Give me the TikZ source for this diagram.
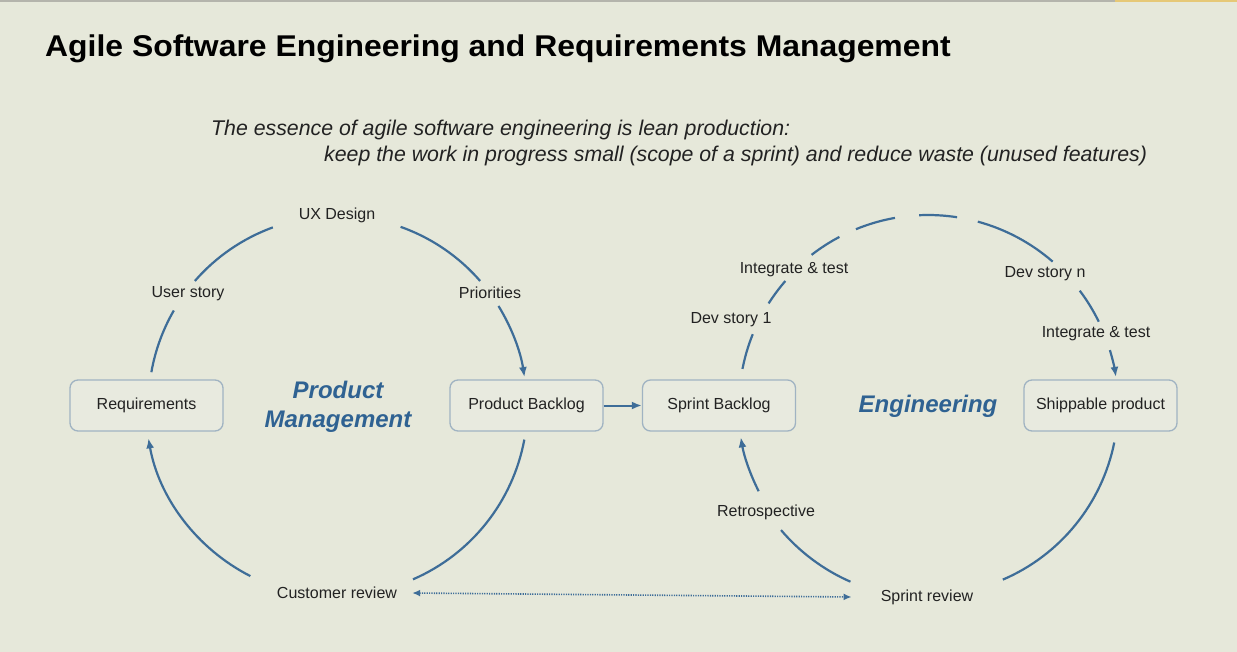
\documentclass[tikz,border=0pt]{standalone}
\usepackage{fontspec}
\setmainfont{Liberation Sans}
\usetikzlibrary{arrows.meta}
\definecolor{bg}{HTML}{E6E8DA}
\definecolor{flowc}{HTML}{3E6D98}
\definecolor{boxline}{HTML}{A0B3C2}
\definecolor{boxfill}{HTML}{E8EADF}
\definecolor{txt}{HTML}{222222}
\definecolor{headc}{HTML}{2F6292}
\definecolor{rimgray}{HTML}{B4B4AC}
\definecolor{rimgold}{HTML}{E6C877}
\begin{document}
\begin{tikzpicture}[x=1pt,y=1pt,
  stage/.style={draw=boxline, line width=1.3pt, fill=boxfill, rounded corners=8pt,
    minimum width=153pt, minimum height=51pt, inner sep=0pt,
    font=\fontsize{16}{19}\selectfont, text=txt},
  lbl/.style={font=\fontsize{16}{19}\selectfont, text=txt, inner sep=1pt},
  area/.style={font=\fontsize{24}{29}\selectfont\bfseries\itshape, text=headc, align=center},
  flow/.style={draw=flowc, line width=2.2pt},
  tip/.style={-{Latex[length=10pt,width=8pt]}},
  both/.style={{Latex[length=8pt,width=7pt]}-{Latex[length=8pt,width=7pt]}}]

% page and top rim
\fill[bg] (0,0) rectangle (1237,-652);
\useasboundingbox (0,0) rectangle (1237,-652);
\fill[rimgray] (0,0) rectangle (1237,-2.5);
\fill[rimgold] (1115,0) rectangle (1237,-2.5);

% heading and motto
\node[anchor=base west, inner sep=0pt, font=\fontsize{30}{36}\selectfont\bfseries, text=black]
  (title) at (45,-57) {\scalebox{1.063}[1]{Agile Software Engineering and Requirements Management}};
\node[anchor=base west, inner sep=0pt, font=\fontsize{21.3}{25}\selectfont\itshape, text=txt]
  (motto1) at (211,-136) {The essence of agile software engineering is lean production:};
\node[anchor=base west, inner sep=0pt, font=\fontsize{21.3}{25}\selectfont\itshape, text=txt]
  (motto2) at (324,-162) {keep the work in progress small (scope of a sprint) and reduce waste (unused features)};

% cycle centres
\coordinate (pm) at (337.5,-405);
\coordinate (en) at (928,-405);

% stages
\node[stage] (req) at (146.5,-405.5) {Requirements};
\node[stage] (pbl) at (526.5,-405.5) {Product Backlog};
\node[stage] (sbl) at (719,-405.5) {Sprint Backlog};
\node[stage] (ship) at (1100.5,-405.5) {Shippable product};

\node[area] (pmname) at (338,-407) {Product\\Management};
\node[area] (enname) at (928,-406) {Engineering};

% activity labels
\node[lbl] (ux) at (337,-215) {UX Design};
\node[lbl] (us) at (188,-294) {User story};
\node[lbl] (prio) at (490,-293) {Priorities};
\node[lbl] (cr) at (337,-593) {Customer review};
\node[lbl] (it1) at (794,-270) {Integrate \& test};
\node[lbl] (ds1) at (731,-320) {Dev story 1};
\node[lbl] (dsn) at (1045,-274) {Dev story n};
\node[lbl] (it2) at (1096,-334) {Integrate \& test};
\node[lbl] (retro) at (766,-512) {Retrospective};
\node[lbl] (sr) at (927,-597) {Sprint review};

% product management cycle
\draw[flow] ([shift={(170:189)}]pm) arc[start angle=170, end angle=150, radius=189];
\draw[flow] ([shift={(139:189)}]pm) arc[start angle=139, end angle=110, radius=189];
\draw[flow] ([shift={(70.5:189)}]pm) arc[start angle=70.5, end angle=41, radius=189];
\draw[flow, tip] ([shift={(31.6:189)}]pm) arc[start angle=31.6, end angle=8.5, radius=189];
\draw[flow] ([shift={(-10.5:190)}]pm) arc[start angle=-10.5, end angle=-66.6, radius=190];
\draw[flow, tip] ([shift={(243:192)}]pm) arc[start angle=243, end angle=190, radius=192];

% hand-over between the cycles
\draw[flow, line width=2pt, tip] (pbl.east) -- (sbl.west);
\draw[flow, line width=1.6pt, dash pattern=on 1.2pt off 1.2pt, both] ([xshift=14pt]cr.east) -- ([xshift=-28pt]sr.west);

% engineering cycle
\draw[flow] ([shift={(169:189)}]en) arc[start angle=169, end angle=158, radius=189];
\draw[flow] ([shift={(147.5:189)}]en) arc[start angle=147.5, end angle=139, radius=189];
\draw[flow] ([shift={(127.8:190)}]en) arc[start angle=127.8, end angle=117.8, radius=190];
\draw[flow] ([shift={(112.3:190)}]en) arc[start angle=112.3, end angle=100, radius=190];
\draw[flow] ([shift={(92.7:190)}]en) arc[start angle=92.7, end angle=81.2, radius=190];
\draw[flow] ([shift={(74.8:190)}]en) arc[start angle=74.8, end angle=49, radius=190];
\draw[flow] ([shift={(37:190)}]en) arc[start angle=37, end angle=26, radius=190];
\draw[flow, tip] ([shift={(16.8:190)}]en) arc[start angle=16.8, end angle=8.5, radius=190];
\draw[flow] ([shift={(-11.4:190)}]en) arc[start angle=-11.4, end angle=-66.8, radius=190];
\draw[flow] ([shift={(246.3:193)}]en) arc[start angle=246.3, end angle=220.4, radius=193];
\draw[flow, tip] ([shift={(207:190)}]en) arc[start angle=207, end angle=189.8, radius=190];
\end{tikzpicture}
\end{document}
